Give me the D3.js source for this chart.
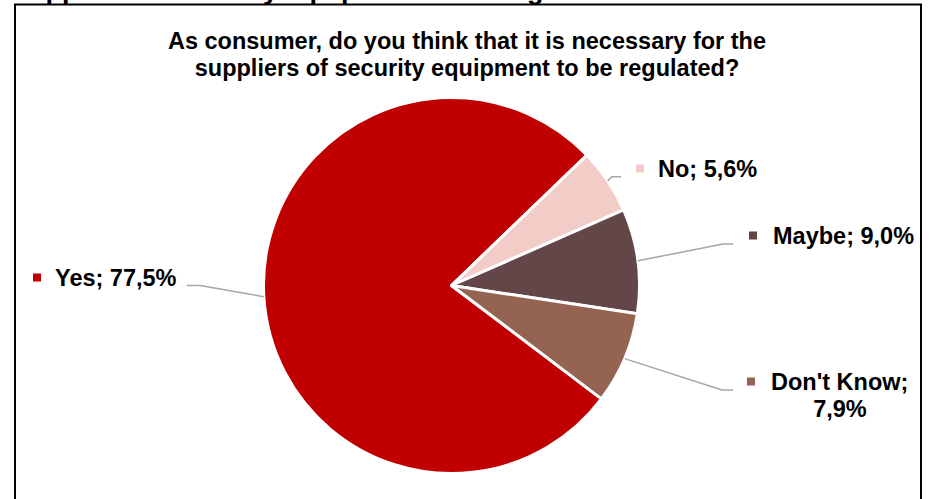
<!DOCTYPE html>
<html>
<head>
<meta charset="utf-8">
<script src="https://cdn.jsdelivr.net/npm/d3@7"></script>
<style>
  html, body { margin: 0; padding: 0; background: #fff; }
  svg { display: block; }
  text { font-family: Arial, "Liberation Sans", sans-serif; font-weight: bold; fill: #000; }
</style>
</head>
<body>
<svg id="chart" width="930" height="499"></svg>
<script>
// ---- data ----
const categories = ["Yes", "No", "Maybe", "Don't Know"];
const values = [77.5, 5.6, 9.0, 7.9];
const colors = ["#C00000", "#F2CDC8", "#634647", "#956352"];
const titleLines = ["As consumer, do you think that it is necessary for the",
                    "suppliers of security equipment to be regulated?"];
const cutHeading = "Suppliers of security equipment to be regulated";

// ---- layout (positions only) ----
const W = 930, H = 499;
const cx = 451.5, cy = 285.5, R = 188;
const firstAngleDeg = 127.1;
const labelLayout = [
  { mx: 33, tx: 55, by: 286, elbow: [[200, 285.5], [187, 285.5]], lines: 1 },
  { mx: 636, tx: 658, by: 177, elbow: [[611.7, 176.7], [621, 176.7]], lines: 1 },
  { mx: 749, tx: 773, by: 244, elbow: [[723, 244], [733, 244]], lines: 1 },
  { mx: 747, tx: 771, by: 390, elbow: [[722, 390], [733, 390]], lines: 2, cx2: 840, by2: 417 }
];

const svg = d3.select("#chart");

// cut-off heading above the frame (clipped in the reference too)
svg.append("text")
  .attr("x", 11).attr("y", -1.5)
  .style("font-size", "27px")
  .text(cutHeading);

// frame
svg.append("rect")
  .attr("x", 15).attr("y", 4.5)
  .attr("width", 906).attr("height", 520)
  .attr("fill", "none").attr("stroke", "#000").attr("stroke-width", 2);

// title
const title = svg.append("text")
  .attr("text-anchor", "middle")
  .style("font-size", "23.5px");
titleLines.forEach((t, i) => {
  title.append("tspan").attr("x", 467).attr("y", 49 + i * 27).text(t);
});

// pie
const toRad = d => d * Math.PI / 180;
const pie = d3.pie().sort(null).value(d => d.v)
  .startAngle(toRad(firstAngleDeg)).endAngle(toRad(firstAngleDeg) + 2 * Math.PI);
const data = categories.map((c, i) => ({ c, v: values[i], col: colors[i], lay: labelLayout[i] }));
const arcs = pie(data);
const arc = d3.arc().innerRadius(0).outerRadius(R);

const g = svg.append("g").attr("transform", `translate(${cx},${cy})`);
g.selectAll("path.slice").data(arcs).enter().append("path")
  .attr("class", "slice")
  .attr("d", arc)
  .attr("fill", d => d.data.col)
  .attr("stroke", "#fff").attr("stroke-width", 3).attr("stroke-linejoin", "round");

// leader lines
const fmt = v => v.toFixed(1).replace(".", ",") + "%";
arcs.forEach(a => {
  const mid = (a.startAngle + a.endAngle) / 2;
  const p0 = [cx + R * Math.sin(mid), cy - R * Math.cos(mid)];
  const pts = [p0].concat(a.data.lay.elbow);
  svg.append("path")
    .attr("d", d3.line()(pts))
    .attr("fill", "none").attr("stroke", "#A6A6A6").attr("stroke-width", 1.5);
});

// labels
arcs.forEach(a => {
  const L = a.data.lay;
  svg.append("rect")
    .attr("x", L.mx).attr("y", L.by - 12.5)
    .attr("width", 8).attr("height", 8)
    .attr("fill", a.data.col);
  if (L.lines === 1) {
    svg.append("text").attr("x", L.tx).attr("y", L.by)
      .style("font-size", "23.5px")
      .text(`${a.data.c}; ${fmt(a.data.v)}`);
  } else {
    svg.append("text").attr("x", L.tx).attr("y", L.by)
      .style("font-size", "23.5px")
      .text(`${a.data.c};`);
    svg.append("text").attr("x", L.cx2).attr("y", L.by2)
      .attr("text-anchor", "middle")
      .style("font-size", "23.5px")
      .text(fmt(a.data.v));
  }
});
</script>
</body>
</html>
